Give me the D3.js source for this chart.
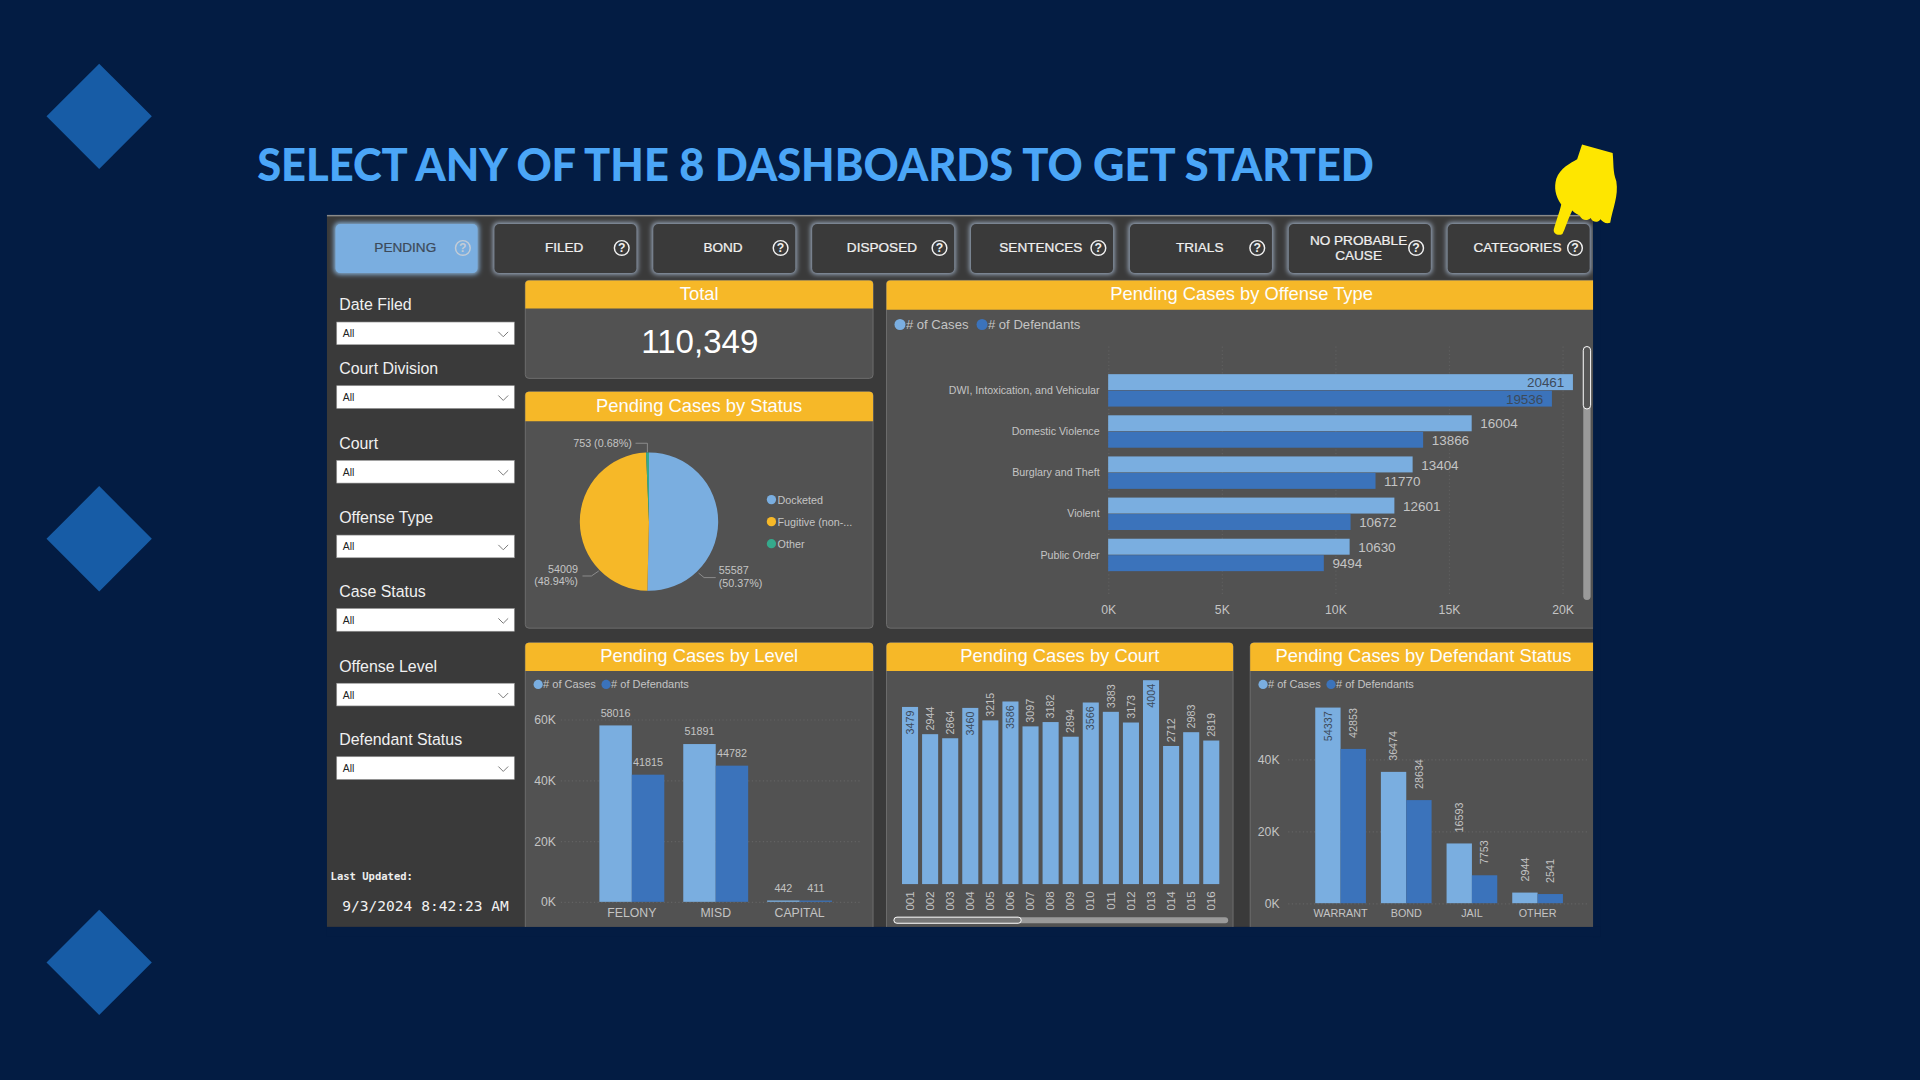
<!DOCTYPE html>
<html>
<head>
<meta charset="utf-8">
<script src="https://cdn.jsdelivr.net/npm/d3@7"></script>
<style>
html, body { margin: 0; background: #031c43; overflow: hidden; }
text { font-family: "Liberation Sans", Arial, sans-serif; }
.axis .domain { display: none; }
</style>
</head>
<body>
<div id="chart"></div>
<script>
// values
const navLabels = ['PENDING', 'FILED', 'BOND', 'DISPOSED', 'SENTENCES', 'TRIALS', 'NO PROBABLE|CAUSE', 'CATEGORIES'];
const filterLabels = ['Date Filed', 'Court Division', 'Court', 'Offense Type', 'Case Status', 'Offense Level', 'Defendant Status'];

const statusNames = ['Docketed', 'Fugitive (non-...', 'Other'];
const statusValues = [55587, 54009, 753];

const offenseTypes = ['DWI, Intoxication, and Vehicular', 'Domestic Violence', 'Burglary and Theft', 'Violent', 'Public Order'];
const offenseCases = [20461, 16004, 13404, 12601, 10630];
const offenseDefendants = [19536, 13866, 11770, 10672, 9494];

const levels = ['FELONY', 'MISD', 'CAPITAL'];
const levelCases = [58016, 51891, 442];
const levelDefendants = [41815, 44782, 411];

const courts = ['001', '002', '003', '004', '005', '006', '007', '008', '009', '010', '011', '012', '013', '014', '015', '016'];
const courtCases = [3479, 2944, 2864, 3460, 3215, 3586, 3097, 3182, 2894, 3566, 3383, 3173, 4004, 2712, 2983, 2819];

const defStatus = ['WARRANT', 'BOND', 'JAIL', 'OTHER'];
const defCases = [54337, 36474, 16593, 2944];
const defDefendants = [42853, 28634, 7753, 2541];

const LIGHT = '#7aaee0', DARK = '#3b73bb', AMBER = '#f6b828', GREEN = '#35a98c';
const GREY = '#c4c4c4', INK = '#3d4a5a', PAGE = '#031c43';

// the screenshot was measured at 1568 wide, so the page is drawn in that space
const svg = d3.select('#chart').append('svg')
    .attr('width', 1920).attr('height', 1080)
    .attr('viewBox', '0 0 1568 882')
    .style('display', 'block');

const glow = svg.append('defs').append('filter').attr('id', 'glow')
    .attr('x', '-15%').attr('y', '-25%').attr('width', '130%').attr('height', '150%');
glow.append('feGaussianBlur').attr('stdDeviation', 2.2);

// background diamonds
svg.append('g').selectAll('path')
    .data([95, 440, 786])
    .join('path')
    .attr('d', d => `M81 ${d - 43}L124 ${d}L81 ${d + 43}L38 ${d}Z`)
    .attr('fill', '#175ca6');

svg.append('text')
    .attr('x', 210).attr('y', 148)
    .attr('textLength', 912).attr('lengthAdjust', 'spacingAndGlyphs')
    .attr('fill', '#4ba6f7')
    .style('font-family', 'Lato')
    .style('font-weight', 900)
    .style('font-size', '38px')
    .text('SELECT ANY OF THE 8 DASHBOARDS TO GET STARTED');

// dashboard frame
svg.append('rect').attr('x', 267).attr('y', 176).attr('width', 1034).attr('height', 581).attr('fill', '#3a3a3a');
svg.append('rect').attr('x', 267).attr('y', 175.5).attr('width', 1034).attr('height', 1.2).attr('fill', '#8a8a8a');

// nav buttons
const navX = d3.scaleBand().domain(navLabels).range([267.5, 1305.5]);
const nav = svg.append('g').selectAll('g')
    .data(navLabels)
    .join('g')
    .attr('transform', d => `translate(${navX(d) + 6.5},183)`);

nav.append('rect')
    .attr('x', -1).attr('y', -1).attr('width', 118).attr('height', 42).attr('rx', 4)
    .attr('fill', (d, i) => i === 0 ? '#8fbde8' : '#a3b3c9')
    .attr('filter', 'url(#glow)');
nav.append('rect')
    .attr('width', 116).attr('height', 40).attr('rx', 4)
    .attr('fill', (d, i) => i === 0 ? LIGHT : '#3a3a3a');

nav.each(function (d, i) {
    const lines = d.split('|');
    d3.select(this).selectAll('text.lbl')
        .data(lines)
        .join('text')
        .attr('class', 'lbl')
        .attr('x', 57)
        .attr('y', (l, k) => lines.length > 1 ? 17 + k * 12 : 23)
        .attr('text-anchor', 'middle')
        .attr('fill', i === 0 ? INK : '#f0f0f0')
        .attr('stroke', i === 0 ? INK : '#f0f0f0')
        .attr('stroke-width', 0.2)
        .style('font-size', '11.1px')
        .text(l => l);
});
nav.append('circle')
    .attr('cx', 104).attr('cy', 19.5).attr('r', 6)
    .attr('fill', 'none')
    .attr('stroke', (d, i) => i === 0 ? '#c3ccd6' : '#f0f0f0')
    .attr('stroke-width', 1.2);
nav.append('text')
    .attr('x', 104).attr('y', 23.2).attr('text-anchor', 'middle')
    .attr('fill', (d, i) => i === 0 ? '#c3ccd6' : '#f0f0f0')
    .style('font-size', '10px').style('font-weight', 700)
    .text('?');

// filter slicers
const filterY = [263, 315, 376, 437, 497, 558, 618];
const filters = svg.append('g').selectAll('g')
    .data(filterLabels)
    .join('g')
    .attr('transform', (d, i) => `translate(275,${filterY[i]})`);
filters.append('text')
    .attr('x', 2).attr('y', -9.5)
    .attr('fill', '#f0f0f0')
    .style('font-size', '13px')
    .text(d => d);
filters.append('rect')
    .attr('width', 145).attr('height', 18.5)
    .attr('fill', '#fff').attr('stroke', '#9a9a9a').attr('stroke-width', 0.5);
filters.append('text')
    .attr('x', 5).attr('y', 12.5)
    .attr('fill', '#222')
    .style('font-size', '8.5px')
    .text('All');
filters.append('path')
    .attr('d', 'M132 8L136 12L140 8')
    .attr('fill', 'none').attr('stroke', '#777').attr('stroke-width', 0.8);

svg.append('text')
    .attr('x', 270).attr('y', 719)
    .attr('fill', '#eee')
    .style('font-family', '"DejaVu Sans Mono"').style('font-size', '8.6px').style('font-weight', 700)
    .text('Last Updated:');
svg.append('text')
    .attr('x', 279.5).attr('y', 744)
    .attr('fill', '#f2f2f2')
    .style('font-family', '"DejaVu Sans Mono"').style('font-size', '11.9px')
    .text('9/3/2024 8:42:23 AM');

// panel with amber header
function panel(x, y, w, h, headH, title) {
    const g = svg.append('g');
    g.append('rect').attr('x', x).attr('y', y).attr('width', w).attr('height', h).attr('rx', 3)
        .attr('fill', '#525252').attr('stroke', '#6e6e6e').attr('stroke-width', 0.8);
    g.append('path')
        .attr('d', `M${x} ${y + headH}V${y + 3}Q${x} ${y} ${x + 3} ${y}H${x + w - 3}Q${x + w} ${y} ${x + w} ${y + 3}V${y + headH}Z`)
        .attr('fill', AMBER);
    g.append('text')
        .attr('x', x + w / 2).attr('y', y + headH / 2 + 4.4)
        .attr('text-anchor', 'middle')
        .attr('fill', '#fdfdfd')
        .style('font-size', '15px')
        .text(title);
}

panel(429, 229, 284, 80, 23, 'Total');
panel(429, 320, 284, 193, 24, 'Pending Cases by Status');
panel(724, 229, 580, 284, 24, 'Pending Cases by Offense Type');
panel(429, 525, 284, 236, 23, 'Pending Cases by Level');
panel(724, 525, 283, 236, 23, 'Pending Cases by Court');
panel(1021, 525, 283, 236, 23, 'Pending Cases by Defendant Status');

// the report is cropped on the right and at the bottom
svg.append('rect').attr('x', 1301).attr('y', 176).attr('width', 6).attr('height', 590).attr('fill', PAGE);
svg.append('rect').attr('x', 267).attr('y', 757).attr('width', 1040).attr('height', 8).attr('fill', PAGE);

// pointing hand, sits on top of the frame
svg.append('path')
    .attr('d', 'M1292 118L1317 125C1318 134 1317 140 1320 148C1322 160 1317 170 1315 182C1311 183 1309 181 1307 179C1305 182 1301 182 1299 178C1296 181 1292 180 1290 176C1288 175 1286 174 1284 172C1280 180 1278 188 1276 191C1273 193 1268 191 1269 187C1271 180 1274 172 1275 167C1270 160 1269 153 1271 146C1274 137 1283 133 1288 130Z')
    .attr('fill', '#fee600');

svg.append('text')
    .attr('x', 571.5).attr('y', 288)
    .attr('text-anchor', 'middle')
    .attr('fill', '#fff')
    .style('font-size', '27px')
    .text('110,349');

// legend row for the two series
function seriesLegend(y, x1, x2, size) {
    const g = svg.append('g');
    [[x1, LIGHT, '# of Cases'], [x2, DARK, '# of Defendants']].forEach(([x, c, t]) => {
        g.append('circle').attr('cx', x).attr('cy', y).attr('r', size * 0.42).attr('fill', c);
        g.append('text').attr('x', x + size * 0.45).attr('y', y + size * 0.36)
            .attr('fill', GREY).style('font-size', size + 'px').text(t);
    });
}
seriesLegend(265, 735, 802, 10.7);
seriesLegend(559, 439.5, 495, 9);
seriesLegend(559, 1031.5, 1087, 9);

// pie
const pieColor = d3.scaleOrdinal().domain(statusNames).range([LIGHT, AMBER, GREEN]);
const pieData = d3.pie().sort(null)(statusValues);
const arc = d3.arc().innerRadius(0).outerRadius(56.5);
const pieG = svg.append('g').attr('transform', 'translate(530,426)');
pieG.selectAll('path')
    .data(pieData)
    .join('path')
    .attr('d', arc)
    .attr('fill', (d, i) => pieColor(statusNames[i]));

// leader lines run from the rim out to each label
const leaders = [
    [[40.5, 42], [45, 45.7], [54.5, 45.7]],
    [[-41, 40.3], [-47, 44.4], [-54.3, 44.4]],
    [[-1.3, -56.6], [-1.3, -64], [-11, -64]]
];
pieG.selectAll('polyline')
    .data(leaders)
    .join('polyline')
    .attr('points', d => d.map(p => p.join(',')).join(' '))
    .attr('fill', 'none').attr('stroke', '#a0a0a0').attr('stroke-width', 0.6);

const pct = statusValues.map(v => (v / d3.sum(statusValues) * 100).toFixed(2) + '%');
const pieLabels = svg.append('g').style('font-size', '8.8px').attr('fill', GREY);
pieLabels.append('text').attr('x', 587).attr('y', 469).text(statusValues[0]);
pieLabels.append('text').attr('x', 587).attr('y', 479).text(`(${pct[0]})`);
pieLabels.append('text').attr('x', 472).attr('y', 468).attr('text-anchor', 'end').text(statusValues[1]);
pieLabels.append('text').attr('x', 472).attr('y', 478).attr('text-anchor', 'end').text(`(${pct[1]})`);
pieLabels.append('text').attr('x', 516).attr('y', 365).attr('text-anchor', 'end').text(`${statusValues[2]} (${pct[2]})`);

const pieLegend = svg.append('g').selectAll('g')
    .data(statusNames)
    .join('g')
    .attr('transform', (d, i) => `translate(630,${408 + i * 18})`);
pieLegend.append('circle').attr('r', 3.8).attr('fill', d => pieColor(d));
pieLegend.append('text').attr('x', 5).attr('y', 3.2).attr('fill', GREY).style('font-size', '8.8px').text(d => d);

const kFormat = d => d / 1000 + 'K';

// offense type, horizontal bars
{
    const x = d3.scaleLinear().domain([0, 20000]).range([905, 1276]);
    const y0 = d3.scaleBand().domain(offenseTypes).range([302.2, 470.2]).paddingInner(0.2).paddingOuter(0.1);
    const y1 = d3.scaleBand().domain([0, 1]).range([0, y0.bandwidth()]);

    svg.append('g').attr('class', 'axis')
        .attr('transform', 'translate(0,283)')
        .call(d3.axisBottom(x).tickValues([0, 5000, 10000, 15000, 20000]).tickSize(204).tickFormat(''))
        .call(g => g.selectAll('line').attr('stroke', '#5f5f5f').attr('stroke-dasharray', '1 2'));

    svg.append('g').attr('class', 'axis')
        .attr('transform', 'translate(0,491)')
        .call(d3.axisBottom(x).tickValues([0, 5000, 10000, 15000, 20000]).tickSize(0).tickFormat(kFormat))
        .call(g => g.selectAll('text').attr('fill', GREY).style('font-size', '10px').attr('dy', '0.75em'));

    svg.append('g').attr('class', 'axis')
        .attr('transform', 'translate(898,0)')
        .call(d3.axisLeft(y0).tickSize(0).tickPadding(0))
        .call(g => g.selectAll('text').attr('fill', GREY).style('font-size', '8.7px'));

    [offenseCases, offenseDefendants].forEach((vals, s) => {
        svg.append('g').selectAll('rect')
            .data(vals)
            .join('rect')
            .attr('x', x(0))
            .attr('y', (d, i) => y0(offenseTypes[i]) + y1(s))
            .attr('width', d => x(d) - x(0))
            .attr('height', y1.bandwidth() - 0.4)
            .attr('fill', s ? DARK : LIGHT);
        svg.append('g').selectAll('text')
            .data(vals)
            .join('text')
            .attr('x', d => d > 17000 ? x(d) - 7 : x(d) + 7)
            .attr('y', (d, i) => y0(offenseTypes[i]) + y1(s) + y1.bandwidth() / 2 + 4)
            .attr('text-anchor', d => d > 17000 ? 'end' : 'start')
            .attr('fill', d => d > 17000 ? INK : GREY)
            .style('font-size', '11px')
            .text(d => d);
    });

    svg.append('rect').attr('x', 1293).attr('y', 283).attr('width', 6).attr('height', 207).attr('rx', 3).attr('fill', '#9a9a9a');
    svg.append('rect').attr('x', 1293).attr('y', 283).attr('width', 6).attr('height', 51).attr('rx', 3)
        .attr('fill', '#555').attr('stroke', '#fff').attr('stroke-width', 0.8);
}

// level, grouped columns
{
    const y = d3.scaleLinear().domain([0, 60000]).range([736.5, 587.5]);
    const x0 = d3.scaleBand().domain(levels).range([481.75, 687.25]).paddingInner(0.226).paddingOuter(0.113);
    const x1 = d3.scaleBand().domain([0, 1]).range([0, x0.bandwidth()]);

    svg.append('g').attr('class', 'axis')
        .attr('transform', 'translate(458,0)')
        .call(d3.axisLeft(y).tickValues([0, 20000, 40000, 60000]).tickSize(-245).tickPadding(4).tickFormat(kFormat))
        .call(g => g.selectAll('line').attr('stroke', '#636363').attr('stroke-dasharray', '1 2'))
        .call(g => g.selectAll('text').attr('fill', GREY).style('font-size', '10px'));

    svg.append('g').attr('class', 'axis')
        .attr('transform', 'translate(0,741.5)')
        .call(d3.axisBottom(x0).tickSize(0).tickPadding(0))
        .call(g => g.selectAll('text').attr('fill', GREY).style('font-size', '10px'));

    [levelCases, levelDefendants].forEach((vals, s) => {
        svg.append('g').selectAll('rect')
            .data(vals)
            .join('rect')
            .attr('x', (d, i) => x0(levels[i]) + x1(s))
            .attr('y', d => y(d))
            .attr('width', x1.bandwidth())
            .attr('height', d => y(0) - y(d))
            .attr('fill', s ? DARK : LIGHT);
        svg.append('g').selectAll('text')
            .data(vals)
            .join('text')
            .attr('x', (d, i) => x0(levels[i]) + x1(s) + x1.bandwidth() / 2)
            .attr('y', d => y(d) - 7)
            .attr('text-anchor', 'middle')
            .attr('fill', GREY)
            .style('font-size', '8.8px')
            .text(d => d);
    });
}

// court, single series columns
{
    const y = d3.scaleLinear().domain([0, 4004]).range([722, 555.5]);
    const x = d3.scaleBand().domain(courts).range([735, 997.4]).paddingInner(0.2).paddingOuter(0.1);

    svg.append('g').selectAll('rect')
        .data(courtCases)
        .join('rect')
        .attr('x', (d, i) => x(courts[i]))
        .attr('y', d => y(d))
        .attr('width', x.bandwidth())
        .attr('height', d => y(0) - y(d))
        .attr('fill', LIGHT);

    svg.append('g').selectAll('text')
        .data(courtCases)
        .join('text')
        .attr('transform', (d, i) => {
            const cx = x(courts[i]) + x.bandwidth() / 2 + 3;
            const top = d > 3400 ? y(d) + 3 : y(d) - 3;
            return `translate(${cx},${top}) rotate(-90)`;
        })
        .attr('text-anchor', d => d > 3400 ? 'end' : 'start')
        .attr('fill', d => d > 3400 ? INK : GREY)
        .style('font-size', '8.8px')
        .text(d => d);

    svg.append('g').attr('class', 'axis')
        .attr('transform', 'translate(0,727)')
        .call(d3.axisBottom(x).tickSize(0).tickPadding(0))
        .call(g => g.selectAll('text')
            .attr('transform', 'translate(3,0) rotate(-90)')
            .attr('text-anchor', 'end').attr('x', -1).attr('y', 0).attr('dy', 0)
            .attr('fill', GREY).style('font-size', '9.4px'));

    svg.append('rect').attr('x', 730).attr('y', 749).attr('width', 273).attr('height', 5).attr('rx', 2.5).attr('fill', '#9a9a9a');
    svg.append('rect').attr('x', 730).attr('y', 749).attr('width', 104).attr('height', 5).attr('rx', 2.5)
        .attr('fill', '#777').attr('stroke', '#fff').attr('stroke-width', 0.8);
}

// defendant status, grouped columns with rotated labels
{
    const y = d3.scaleLinear().domain([0, 40000]).range([737.6, 620]);
    const x0 = d3.scaleBand().domain(defStatus).range([1068, 1282.5]).paddingInner(0.228).paddingOuter(0.114);
    const x1 = d3.scaleBand().domain([0, 1]).range([0, x0.bandwidth()]);

    svg.append('g').attr('class', 'axis')
        .attr('transform', 'translate(1052,0)')
        .call(d3.axisLeft(y).tickValues([0, 20000, 40000]).tickSize(-245).tickPadding(7).tickFormat(kFormat))
        .call(g => g.selectAll('line').attr('stroke', '#636363').attr('stroke-dasharray', '1 2'))
        .call(g => g.selectAll('text').attr('fill', GREY).style('font-size', '10px'));

    svg.append('g').attr('class', 'axis')
        .attr('transform', 'translate(0,743)')
        .call(d3.axisBottom(x0).tickSize(0).tickPadding(0))
        .call(g => g.selectAll('text').attr('fill', GREY).style('font-size', '8.8px'));

    [defCases, defDefendants].forEach((vals, s) => {
        svg.append('g').selectAll('rect')
            .data(vals)
            .join('rect')
            .attr('x', (d, i) => x0(defStatus[i]) + x1(s))
            .attr('y', d => y(d))
            .attr('width', x1.bandwidth())
            .attr('height', d => y(0) - y(d))
            .attr('fill', s ? DARK : LIGHT);
        svg.append('g').selectAll('text')
            .data(vals)
            .join('text')
            .attr('transform', (d, i) => {
                const cx = x0(defStatus[i]) + x1(s) + x1.bandwidth() / 2 + 3;
                const top = d > 50000 ? y(d) + 3 : y(d) - 9;
                return `translate(${cx},${top}) rotate(-90)`;
            })
            .attr('text-anchor', d => d > 50000 ? 'end' : 'start')
            .attr('fill', d => d > 50000 ? INK : GREY)
            .style('font-size', '8.8px')
            .text(d => d);
    });
}
</script>
</body>
</html>
